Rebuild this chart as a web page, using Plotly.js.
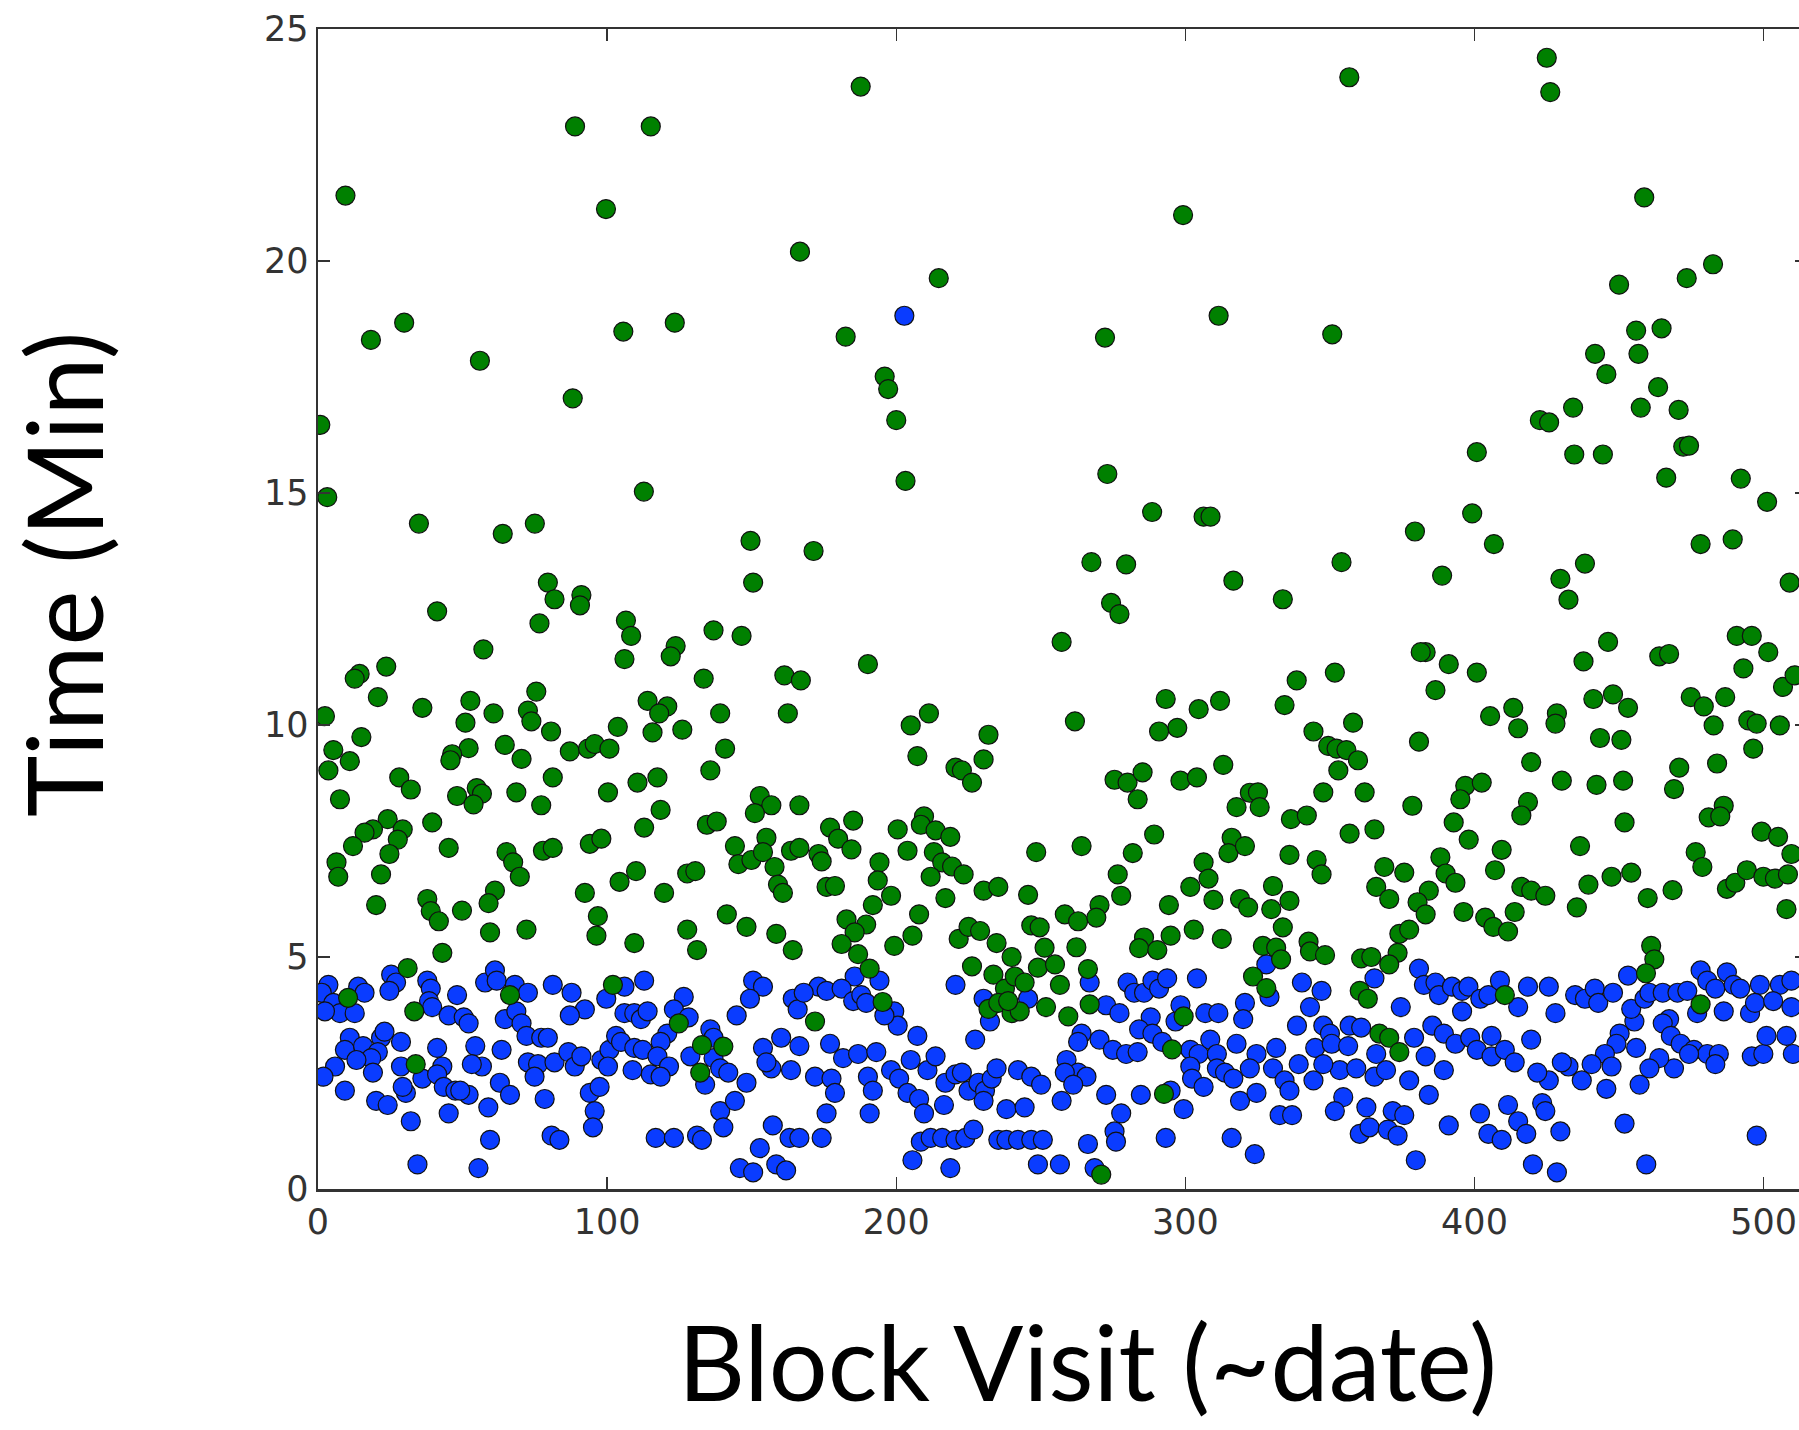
<!DOCTYPE html>
<html>
<head>
<meta charset="utf-8">
<script src="https://cdn.plot.ly/plotly-3.0.1.min.js"></script>
<style>
html, body { margin: 0; padding: 0; overflow: hidden; background: #fff; }
#chart { width: 1820px; height: 1430px; }
</style>
</head>
<body>
<div id="chart"></div>
<script>
// Blue series: [block visit, minutes]
var bluePoints = [
[3.6,4.40],[1.3,4.23],[13.9,4.36],[16.1,4.23],[5.3,4.01],[7.6,3.79],[12.7,3.79],[2.4,3.83],[25.3,4.62],[27.0,4.45],[24.7,4.27],[37.8,4.49],[39.0,4.32],[48.1,4.18],[38.4,4.05],[39.5,3.92],[45.2,3.74],[50.4,3.70],[52.1,3.57],[57.8,4.45],[61.2,4.71],[61.8,4.49],[68.1,4.40],[72.6,4.23],[81.2,4.40],[64.6,3.66],[68.6,3.83],[70.4,3.57],[72.1,3.30],[77.2,3.26],[79.5,3.26],[11.0,3.26],[9.3,3.0],[15.6,3.08],[21.8,3.26],[20.7,2.95],[23.0,3.39],[28.7,3.17],[18.4,2.82],[13.3,2.78],[5.9,2.64],[1.9,2.42],[19.0,2.51],[28.7,2.64],[36.1,2.38],[41.2,3.04],[43.0,2.64],[41.2,2.47],[54.4,3.08],[56.7,2.64],[53.2,2.69],[63.5,3.0],[72.6,2.73],[76.1,2.69],[74.9,2.42],[81.8,2.73],[9.3,2.12],[20.1,1.90],[24.1,1.81],[30.4,2.07],[29.3,2.20],[43.5,2.20],[47.5,2.12],[52.1,2.03],[49.2,2.12],[62.9,2.29],[66.4,2.03],[58.9,1.76],[78.4,1.94],[32.1,1.46],[45.2,1.63],[59.5,1.06],[80.8,1.15],[83.5,1.06],[34.4,0.53],[55.5,0.45],
[87.7,4.23],[92.3,3.87],[87.1,3.74],[99.7,4.10],[106.0,4.36],[112.8,4.49],[106.0,3.79],[109.4,3.79],[111.7,3.66],[114.0,3.83],[126.5,4.14],[123.1,3.87],[128.2,3.70],[120.8,3.35],[118.5,3.17],[135.7,3.44],[136.8,3.26],[150.5,4.49],[153.9,4.36],[149.4,4.10],[144.8,3.74],[164.2,4.10],[165.9,3.87],[86.6,2.95],[88.8,2.64],[91.1,2.86],[98.0,2.78],[100.8,3.0],[103.1,3.30],[104.8,3.17],[100.3,2.64],[108.8,2.56],[109.4,3.04],[112.3,3.0],[117.4,2.86],[121.4,2.64],[115.1,2.47],[118.5,2.42],[128.8,2.86],[136.8,2.82],[139.1,2.60],[141.9,2.51],[148.2,2.29],[133.9,2.25],[153.9,3.04],[160.2,3.26],[166.5,3.08],[156.8,2.60],[163.6,2.56],[155.1,2.73],[94.0,2.07],[97.4,2.20],[95.7,1.68],[95.1,1.33],[116.8,1.10],[123.1,1.10],[131.1,1.15],[132.8,1.06],[139.1,1.68],[144.2,1.90],[140.2,1.33],[157.3,1.37],[152.8,0.88],[163.1,1.10],[166.5,1.10],[145.9,0.45],[150.5,0.36],[158.5,0.53],[161.9,0.40],
[185.6,4.58],[194.2,4.49],[173.1,4.36],[175.9,4.27],[181.1,4.32],[185.1,4.05],[187.9,4.18],[189.6,4.01],[168.0,4.23],[199.3,3.83],[200.5,3.52],[195.9,3.74],[207.3,3.30],[220.5,4.40],[230.2,4.10],[232.4,3.61],[245.6,4.10],[227.3,3.22],[177.1,3.13],[181.6,2.82],[186.8,2.91],[193.1,2.95],[171.9,2.42],[177.6,2.38],[178.8,2.07],[175.9,1.63],[190.2,2.42],[191.9,2.12],[190.8,1.63],[198.2,2.56],[201.0,2.38],[205.0,2.78],[203.9,2.07],[207.9,1.94],[209.6,1.63],[210.8,2.56],[213.6,2.86],[216.5,1.81],[217.0,2.29],[220.5,2.47],[222.7,2.51],[225.0,2.12],[228.4,2.29],[230.7,2.12],[233.0,2.38],[234.7,2.60],[230.2,1.90],[238.1,1.72],[244.4,1.76],[242.1,2.56],[246.7,2.42],[250.1,2.25],[174.2,1.10],[208.5,1.02],[211.9,1.10],[215.9,1.10],[220.5,1.06],[223.9,1.10],[226.7,1.28],[235.3,1.06],[238.1,1.06],[242.1,1.06],[246.7,1.06],[250.7,1.06],[205.6,0.62],[218.7,0.45],[249.0,0.53],[202.8,18.82],
[266.9,4.45],[280.0,4.45],[282.3,4.23],[285.7,4.23],[288.6,4.49],[290.9,4.32],[293.7,4.54],[304.0,4.54],[272.6,3.96],[277.2,3.79],[288.0,3.70],[298.3,3.96],[296.6,3.61],[306.9,3.79],[311.4,3.79],[320.6,4.01],[320.0,3.66],[329.1,4.14],[328.0,4.84],[264.1,3.35],[262.9,3.17],[270.3,3.22],[274.9,3.0],[279.5,2.91],[283.5,2.95],[284.0,3.44],[288.6,3.35],[292.0,3.17],[301.7,3.0],[304.6,2.91],[308.6,3.22],[310.9,2.91],[317.7,3.13],[324.6,2.91],[331.4,3.04],[258.9,2.78],[262.9,2.51],[265.8,2.42],[258.3,2.51],[261.2,2.25],[301.7,2.64],[302.3,2.38],[306.3,2.20],[310.9,2.60],[313.7,2.51],[316.6,2.38],[322.3,2.60],[330.3,2.60],[334.3,2.34],[336.0,2.12],[257.2,1.90],[272.6,2.03],[277.8,1.63],[284.6,2.03],[294.9,2.12],[299.4,1.72],[318.9,1.90],[324.6,2.07],[332.6,1.59],[266.3,0.97],[275.5,1.24],[276.0,1.02],[293.2,1.10],[316.0,1.10],[256.6,0.53],[268.6,0.45],[324.0,0.75],
[340.3,4.45],[347.1,4.27],[343.1,3.92],[365.4,4.54],[374.5,3.92],[380.8,4.75],[382.5,4.40],[386.5,4.45],[387.7,4.18],[392.2,4.36],[395.7,4.27],[397.9,4.36],[395.7,3.83],[402.0,4.10],[404.8,4.18],[408.8,4.49],[415.1,3.92],[418.5,4.36],[338.6,3.52],[347.7,3.52],[350.0,3.35],[344.9,3.04],[350.6,3.13],[356.3,3.08],[356.8,3.52],[360.8,3.48],[353.4,2.56],[347.7,2.69],[339.2,2.69],[359.1,2.60],[365.4,2.42],[369.4,2.56],[366.0,2.91],[379.1,3.26],[383.1,2.86],[385.4,3.52],[389.4,3.35],[393.4,3.13],[398.5,3.26],[400.8,3.0],[405.9,3.30],[405.9,2.86],[410.5,3.0],[413.9,2.73],[419.6,3.22],[389.4,2.56],[377.4,2.34],[344.3,2.34],[384.2,2.03],[354.6,1.98],[351.7,1.68],[362.6,1.76],[371.7,1.68],[375.7,1.59],[360.3,1.19],[363.7,1.33],[370.0,1.28],[373.4,1.15],[391.1,1.37],[401.9,1.63],[404.8,1.19],[409.4,1.06],[411.6,1.81],[415.1,1.46],[417.9,1.19],[420.2,0.53],[379.7,0.62],[336.9,1.59],
[425.7,4.36],[453.1,4.60],[434.8,4.18],[438.2,4.10],[441.6,4.32],[442.8,4.01],[447.9,4.23],[428.0,3.79],[455.3,3.61],[454.2,3.88],[458.8,4.10],[460.5,4.23],[465.1,4.23],[470.2,4.23],[473.6,4.27],[478.2,4.71],[480.5,4.49],[483.3,4.32],[487.3,4.67],[489.6,4.40],[491.9,4.32],[498.7,4.40],[505.6,4.40],[509.6,4.49],[477.0,3.79],[486.2,3.83],[495.3,3.79],[497.0,4.01],[503.3,4.05],[509.6,3.92],[467.3,3.66],[465.1,3.57],[467.9,3.30],[471.3,3.13],[475.9,3.0],[480.5,2.91],[484.5,2.91],[483.3,2.69],[474.2,2.91],[469.0,2.60],[463.9,2.82],[460.5,2.60],[450.2,3.35],[449.1,3.13],[455.9,3.04],[445.1,2.91],[447.4,2.64],[440.5,2.69],[432.5,2.64],[430.2,2.73],[437.1,2.34],[425.7,2.34],[421.7,2.51],[495.9,2.86],[499.9,2.91],[501.0,3.30],[507.9,3.30],[510.1,2.91],[445.6,2.16],[457.1,2.25],[423.4,1.85],[424.5,1.68],[451.9,1.41],[429.7,1.24],[497.6,1.15],[428.5,0.36],[459.4,0.53]
];

// Green series: [block visit, minutes]
var greenPoints = [
[0.8,16.47],[3.2,14.91],[9.5,21.41],[18.3,18.30],[29.8,18.67],[34.9,14.34],[56.0,17.85],[63.9,14.12],[75.0,14.34],[88.1,17.04],[88.9,22.90],[99.6,21.12],[105.6,18.48],[112.7,15.03],[115.1,22.90],[123.4,18.67],[149.6,13.97],[166.7,20.20],[171.4,13.75],[182.5,18.37],[187.7,23.76],[196.0,17.51],[197.2,17.24],[200.0,16.57],[203.2,15.26],[214.7,19.63],[272.2,18.35],[273.0,15.41],[288.5,14.59],[299.2,20.99],[306.3,14.49],[308.7,14.49],[311.5,18.82],[350.8,18.42],[356.7,23.96],[379.4,14.17],[399.2,14.56],[400.8,15.88],[406.7,13.90],[422.6,16.57],[425.0,24.38],[426.2,23.64],[425.8,16.52],[434.1,16.84],[434.5,15.83],[441.7,18.0],[444.4,15.83],[445.6,17.56],[450.0,19.49],[455.9,18.50],[456.7,18.0],[457.5,16.84],[458.7,21.37],[464.7,18.55],[463.5,17.28],[466.3,15.33],[470.6,16.79],[472.2,16.0],[474.2,16.02],[473.4,19.63],[478.2,13.90],[482.5,19.93],[489.3,14.0],[492.1,15.31],[501.2,14.81],
[79.5,13.07],[81.8,12.71],[41.2,12.45],[76.6,12.19],[57.2,11.63],[14.4,11.10],[12.7,11.0],[23.6,11.26],[20.7,10.60],[36.1,10.37],[75.5,10.72],[52.7,10.52],[51.0,10.05],[60.7,10.25],[72.6,10.31],[73.8,10.08],[2.4,10.19],[80.6,9.86],[15.0,9.74],[5.3,9.46],[11.0,9.22],[3.6,9.02],[52.1,9.50],[46.4,9.37],[45.8,9.24],[64.6,9.57],[70.4,9.27],[81.2,8.87],[28.1,8.87],[32.1,8.61],[48.1,8.47],[54.9,8.64],[56.7,8.52],[53.8,8.29],[68.6,8.55],[77.2,8.27],[7.6,8.40],[24.1,7.97],[19.0,7.75],[16.1,7.68],[29.3,7.75],[27.6,7.53],[39.5,7.90],[12.1,7.39],[24.7,7.22],[6.4,7.04],[7.0,6.73],[21.8,6.78],[45.2,7.35],[65.2,7.26],[67.5,7.04],[69.8,6.73],[77.8,7.29],[81.2,7.35],[20.1,6.12],[37.8,6.25],[39.0,5.99],[41.8,5.77],[49.8,6.00],[61.2,6.43],[59.0,6.16],[59.5,5.53],[72.1,5.59],[43.0,5.09],[31.0,4.76],[10.4,4.12],[33.3,3.83],[66.4,4.18],[33.8,2.69],
[91.1,12.80],[90.6,12.58],[106.5,12.25],[108.3,11.92],[106.0,11.42],[123.7,11.70],[122.0,11.48],[136.8,12.04],[146.5,11.92],[150.5,13.07],[133.4,11.0],[161.3,11.07],[167.0,10.96],[114.0,10.52],[120.8,10.40],[118.0,10.25],[115.7,9.84],[126.0,9.90],[139.1,10.25],[162.5,10.25],[103.7,9.96],[87.1,9.43],[93.4,9.49],[95.7,9.59],[100.8,9.49],[140.8,9.49],[135.7,9.02],[100.3,8.55],[110.5,8.76],[117.4,8.87],[118.5,8.17],[112.8,7.79],[152.8,8.47],[156.8,8.27],[151.1,8.10],[166.5,8.27],[134.5,7.85],[137.9,7.92],[94.0,7.44],[98.0,7.55],[144.2,7.39],[145.4,7.0],[149.9,7.09],[155.1,7.57],[153.9,7.26],[157.9,6.94],[163.6,7.29],[166.5,7.35],[159.1,6.56],[160.8,6.38],[110.0,6.85],[104.3,6.62],[127.7,6.80],[130.5,6.85],[92.3,6.38],[119.7,6.38],[96.8,5.88],[96.3,5.46],[109.4,5.30],[127.7,5.59],[131.1,5.15],[141.4,5.92],[148.2,5.65],[158.5,5.50],[164.2,5.15],[102.0,4.40],[124.8,3.57],[132.8,3.10],[140.2,3.07],[132.2,2.51],
[190.2,11.31],[211.3,10.25],[205.0,9.99],[207.3,9.33],[231.9,9.79],[230.2,9.26],[220.5,9.08],[222.7,9.02],[226.2,8.76],[177.1,7.79],[185.1,7.94],[179.9,7.55],[184.5,7.32],[173.1,7.22],[174.2,7.06],[175.9,6.51],[178.8,6.53],[200.5,7.75],[203.9,7.29],[209.6,8.03],[208.5,7.85],[213.6,7.73],[218.7,7.59],[213.0,7.26],[215.9,7.04],[219.3,6.95],[223.3,6.78],[211.9,6.73],[217.0,6.27],[194.2,7.04],[193.6,6.65],[198.2,6.32],[191.9,6.12],[189.6,5.70],[182.8,5.81],[185.6,5.53],[181.1,5.28],[186.8,5.06],[190.8,4.75],[199.3,5.24],[205.6,5.46],[207.9,5.92],[221.6,5.39],[225.0,5.65],[229.0,5.56],[226.2,4.80],[230.2,6.43],[235.3,6.51],[245.6,6.34],[248.4,7.26],[234.7,5.30],[239.9,5.00],[246.7,5.68],[249.6,5.64],[251.3,5.20],[233.6,4.62],[237.6,4.32],[241.0,4.58],[244.4,4.45],[249.0,4.77],[231.9,3.88],[235.3,4.01],[239.9,3.79],[242.7,3.83],[238.7,4.05],[251.8,3.92],[171.9,3.61],[195.3,4.03],
[267.5,13.51],[279.5,13.46],[316.6,13.11],[333.7,12.71],[274.3,12.63],[277.2,12.39],[257.2,11.79],[293.2,10.56],[304.6,10.34],[312.0,10.52],[297.2,9.94],[290.9,9.86],[334.3,10.43],[261.8,10.08],[275.5,8.82],[280.0,8.76],[285.2,8.98],[283.5,8.40],[298.3,8.80],[304.0,8.87],[313.1,9.14],[322.3,8.54],[325.1,8.55],[325.7,8.23],[317.7,8.23],[336.5,7.97],[264.1,7.39],[281.8,7.24],[289.2,7.64],[316.0,7.57],[314.9,7.24],[320.6,7.39],[336.0,7.20],[306.3,7.04],[308.0,6.69],[301.7,6.51],[276.6,6.78],[277.8,6.32],[309.7,6.23],[294.3,6.12],[318.9,6.25],[321.7,6.07],[330.3,6.53],[329.7,6.03],[336.0,6.21],[270.3,6.12],[258.3,5.92],[262.9,5.77],[269.2,5.85],[302.9,5.59],[294.9,5.46],[285.7,5.42],[284.0,5.19],[290.3,5.15],[312.6,5.39],[262.3,5.21],[333.7,5.64],[326.8,5.24],[331.4,5.20],[333.1,4.95],[254.9,4.84],[266.3,4.74],[256.6,4.40],[259.5,3.72],[266.9,3.98],[323.4,4.58],[328.0,4.33],[299.4,3.72],[295.4,3.01],[292.6,2.05],[270.9,0.31],
[354.0,13.51],[388.8,13.22],[383.1,11.57],[381.4,11.57],[391.1,11.31],[400.8,11.13],[386.5,10.75],[338.5,10.96],[351.7,11.13],[413.4,10.37],[405.4,10.19],[415.1,9.93],[358.0,10.05],[344.3,9.86],[349.4,9.55],[352.3,9.49],[355.7,9.46],[359.7,9.24],[352.9,9.02],[380.8,9.64],[419.6,9.20],[347.7,8.55],[362.0,8.55],[396.8,8.69],[402.5,8.76],[395.1,8.40],[378.5,8.26],[418.5,8.34],[416.2,8.05],[342.0,8.05],[356.8,7.66],[365.4,7.75],[392.8,7.90],[398.0,7.53],[409.4,7.31],[407.1,6.87],[345.4,7.09],[347.1,6.78],[368.8,6.94],[375.7,6.82],[388.2,7.15],[390.0,6.80],[393.4,6.60],[384.2,6.43],[366.0,6.51],[370.5,6.25],[380.3,6.18],[383.1,5.92],[396.2,5.97],[403.7,5.85],[406.5,5.65],[411.6,5.55],[413.9,5.97],[416.2,6.51],[419.6,6.43],[342.6,5.33],[343.1,5.12],[348.3,5.04],[374.0,5.50],[377.4,5.59],[373.4,5.09],[370.5,4.84],[360.8,4.97],[364.3,5.0],[360.3,4.27],[363.1,4.10],[367.1,3.35],[370.5,3.26],[374.0,2.95],[410.5,4.18],
[438.2,13.48],[429.7,13.15],[432.5,12.70],[509.0,13.07],[446.2,11.79],[437.7,11.37],[463.9,11.48],[467.3,11.53],[490.7,11.92],[495.9,11.92],[501.6,11.57],[493.0,11.22],[506.7,10.82],[510.7,11.07],[441.1,10.56],[447.9,10.66],[453.1,10.37],[428.5,10.25],[428.0,10.03],[474.8,10.60],[479.3,10.40],[486.7,10.60],[482.7,9.99],[494.7,10.10],[497.6,10.03],[505.6,9.99],[496.4,9.49],[443.4,9.72],[450.8,9.68],[470.8,9.08],[469.0,8.62],[483.9,9.17],[430.2,8.80],[442.2,8.71],[451.4,8.80],[486.2,8.26],[481.0,8.01],[485.0,8.03],[451.9,7.90],[499.3,7.70],[505.0,7.59],[509.6,7.22],[436.5,7.39],[476.5,7.26],[478.8,6.94],[439.4,6.56],[447.4,6.73],[454.2,6.82],[424.5,6.32],[435.4,6.07],[459.9,6.27],[468.5,6.44],[487.3,6.47],[490.2,6.60],[494.2,6.87],[499.9,6.73],[503.9,6.69],[508.4,6.78],[507.9,6.03],[461.1,5.24],[462.2,4.95],[459.3,4.65],[478.2,3.98]
];

var xTickValues = [0, 100, 200, 300, 400, 500];
var yTickValues = [0, 5, 10, 15, 20, 25];
var xTitle = "Block Visit (~date)";
var yTitle = "Time (Min)";

var markerLine = { color: '#111111', width: 1.2 };
var traces = [
  { type: 'scatter', mode: 'markers', name: 'blue',
    x: bluePoints.map(function(p){ return p[0]; }),
    y: bluePoints.map(function(p){ return p[1]; }),
    marker: { color: '#0a3cff', size: 19, line: markerLine },
    hoverinfo: 'skip', cliponaxis: true },
  { type: 'scatter', mode: 'markers', name: 'green',
    x: greenPoints.map(function(p){ return p[0]; }),
    y: greenPoints.map(function(p){ return p[1]; }),
    marker: { color: '#008000', size: 19, line: markerLine },
    hoverinfo: 'skip', cliponaxis: true }
];

var tickFont = { family: 'DejaVu Sans', size: 35, color: '#333333' };
var axisCommon = {
  showgrid: false, zeroline: false, showline: true, linecolor: '#333333', linewidth: 2.5,
  mirror: 'ticks', ticks: 'inside', ticklen: 12, tickwidth: 1.5, tickcolor: '#333333',
  tickfont: tickFont, fixedrange: true
};

var layout = {
  width: 1820, height: 1430,
  margin: { l: 318, r: 13, t: 29, b: 241 },
  paper_bgcolor: '#ffffff', plot_bgcolor: '#ffffff',
  showlegend: false,
  xaxis: Object.assign({}, axisCommon, { range: [0, 515], tickvals: xTickValues, ticktext: xTickValues.map(String) }),
  yaxis: Object.assign({}, axisCommon, { range: [0, 25], tickvals: yTickValues, ticktext: yTickValues.map(String) }),
  annotations: [
    { text: xTitle, xref: 'paper', yref: 'paper', x: 0.5171, y: -0.148,
      xanchor: 'center', yanchor: 'middle', showarrow: false,
      font: { family: 'Lato', size: 104, color: '#000000' } },
    { text: yTitle, xref: 'paper', yref: 'paper', x: -0.172, y: 0.530,
      xanchor: 'center', yanchor: 'middle', showarrow: false, textangle: -90,
      font: { family: 'Lato', size: 104, color: '#000000' } }
  ]
};

Plotly.newPlot('chart', traces, layout, { displayModeBar: false, staticPlot: true });
</script>
</body>
</html>
